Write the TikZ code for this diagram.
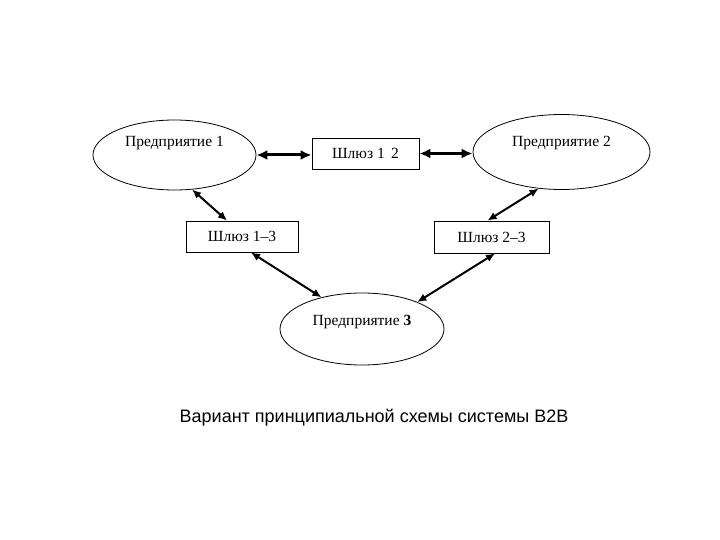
\documentclass[tikz,border=0pt]{standalone}
\usepackage{fontspec}
\setmainfont{Liberation Serif}
\newfontfamily\capfont{Liberation Sans}
\usetikzlibrary{shapes.geometric,arrows.meta}
\begin{document}
\begin{tikzpicture}[x=1pt,y=-1pt,
  ent/.style={draw, ellipse, line width=0.8pt, inner sep=0pt},
  gate/.style={draw, rectangle, line width=0.9pt, inner sep=0pt, font=\fontsize{15.5}{18}\selectfont},
  lbl/.style={font=\fontsize{15.5}{18}\selectfont},
  biarrow/.style={{Latex[length=9pt,width=8pt]}-{Latex[length=9pt,width=8pt]}, line width=2pt},
  biarrowh/.style={{Latex[length=11pt,width=10pt]}-{Latex[length=11pt,width=10pt]}, line width=3pt}]
\useasboundingbox (0,0) rectangle (720,540);
\node[ent, minimum width=163pt, minimum height=70pt,
  label={[lbl,yshift=12pt]center:Предприятие 1}] (e1) at (174.5,155) {};
\node[ent, minimum width=177pt, minimum height=75pt,
  label={[lbl,yshift=9pt]center:Предприятие 2}] (e2) at (561.5,152) {};
\node[ent, minimum width=164pt, minimum height=72pt,
  label={[lbl,yshift=7pt]center:Предприятие \textbf{3}}] (e3) at (362,329) {};
\node[gate, minimum width=107pt, minimum height=31pt] (b12) at (365.5,153.5) {Шлюз 1\ \,2};
\node[gate, minimum width=112pt, minimum height=31pt] (b13) at (242,236.5) {Шлюз 1–3};
\node[gate, minimum width=115pt, minimum height=32pt] (b23) at (491.5,237) {Шлюз 2–3};
\draw[biarrowh] (e1.east) -- (e1.east -| b12.west);
\draw[biarrowh] (b12.east) -- (b12.east -| e2.west);
\draw[biarrow] (e1.-63) -- ([xshift=-15pt]b13.north);
\draw[biarrow] ([xshift=9pt]b13.south) -- (e3.142);
\draw[biarrow] (e2.-122) -- ([xshift=-4pt]b23.north);
\draw[biarrow] ([xshift=3.5pt]b23.south) -- (e3.26);
\node[font=\capfont\fontsize{18}{21}\selectfont] (cap) at (374,418) {Вариант принципиальной схемы системы B2B};
\end{tikzpicture}
\end{document}
